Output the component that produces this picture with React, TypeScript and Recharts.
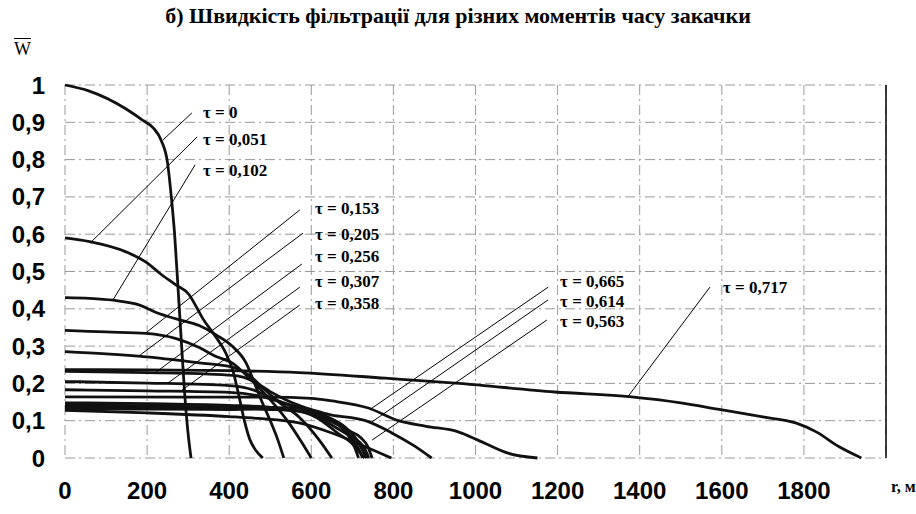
import React from 'react'
import { LineChart, Line, XAxis, YAxis, CartesianGrid, ReferenceLine, ReferenceDot } from 'recharts'

// [r, w] pairs
const tau0 = [[0, 1], [56, 0.985], [150, 0.935], [190, 0.905], [215, 0.885], [235, 0.85], [250, 0.79], [259, 0.7], [267, 0.6], [274, 0.48], [283, 0.32], [291, 0.18], [299, 0.075], [307, 0]]
const tau051 = [[0, 0.59], [60, 0.58], [150, 0.552], [200, 0.523], [230, 0.496], [270, 0.464], [303, 0.437], [320, 0.405], [335, 0.375], [364, 0.33], [390, 0.285], [410, 0.23], [425, 0.16], [437, 0.1], [450, 0.05], [465, 0.02], [482, 0]]
const tau102 = [[0, 0.43], [60, 0.428], [117, 0.423], [182, 0.41], [222, 0.39], [271, 0.373], [327, 0.355], [368, 0.33], [407, 0.3], [441, 0.255], [462, 0.2], [480, 0.15], [500, 0.1], [518, 0.05], [533, 0]]
const tau153 = [[0, 0.342], [100, 0.338], [198, 0.334], [271, 0.32], [327, 0.296], [368, 0.272], [407, 0.255], [448, 0.215], [497, 0.16], [545, 0.095], [575, 0.045], [600, 0]]
const tau205 = [[0, 0.285], [100, 0.279], [198, 0.271], [327, 0.255], [407, 0.244], [448, 0.222], [485, 0.185], [521, 0.15], [570, 0.11], [618, 0.05], [650, 0]]
const tau256 = [[0, 0.232], [200, 0.229], [350, 0.225], [420, 0.22], [460, 0.205], [500, 0.178], [540, 0.155], [580, 0.137], [620, 0.12], [660, 0.095], [690, 0.06], [705, 0.03], [715, 0]]
const tau307 = [[0, 0.205], [200, 0.201], [400, 0.194], [460, 0.182], [505, 0.16], [555, 0.138], [615, 0.12], [665, 0.09], [698, 0.055], [715, 0.025], [725, 0]]
const tau358 = [[0, 0.183], [200, 0.18], [400, 0.176], [470, 0.167], [520, 0.152], [580, 0.132], [640, 0.11], [680, 0.085], [710, 0.05], [725, 0.02], [735, 0]]
const tau409 = [[0, 0.148], [200, 0.146], [400, 0.141], [500, 0.136], [560, 0.128], [615, 0.112], [655, 0.085], [690, 0.062], [715, 0.045], [730, 0.025], [740, 0]]
const tau460 = [[0, 0.143], [200, 0.14], [400, 0.136], [500, 0.132], [575, 0.124], [625, 0.1], [665, 0.066], [698, 0.04], [718, 0.015], [730, 0]]
const tau512 = [[0, 0.138], [200, 0.135], [400, 0.132], [500, 0.13], [595, 0.124], [645, 0.1], [688, 0.075], [720, 0.055], [738, 0.03], [748, 0]]
const tau563 = [[0, 0.128], [200, 0.121], [400, 0.111], [470, 0.106], [570, 0.094], [650, 0.067], [732, 0.03], [795, 0]]
const tau614 = [[0, 0.133], [200, 0.131], [400, 0.13], [500, 0.134], [570, 0.135], [650, 0.115], [732, 0.1], [795, 0.068], [850, 0.033], [893, 0]]
const tau665 = [[0, 0.164], [300, 0.163], [500, 0.163], [600, 0.16], [650, 0.153], [739, 0.134], [812, 0.1], [880, 0.085], [958, 0.07], [1006, 0.048], [1079, 0.013], [1151, 0]]
const tau717 = [[0, 0.237], [200, 0.236], [400, 0.234], [570, 0.229], [780, 0.214], [960, 0.2], [1193, 0.177], [1380, 0.164], [1500, 0.148], [1590, 0.131], [1700, 0.11], [1780, 0.094], [1830, 0.07], [1886, 0.03], [1940, 0]]

const series = [tau0, tau051, tau102, tau153, tau205, tau256, tau307, tau358, tau409, tau460, tau512, tau563, tau614, tau665, tau717]

const xTicks = [0, 200, 400, 600, 800, 1000, 1200, 1400, 1600, 1800]
const yTicks = [0, 0.1, 0.2, 0.3, 0.4, 0.5, 0.6, 0.7, 0.8, 0.9, 1]
const yTickLabels = ['0', '0,1', '0,2', '0,3', '0,4', '0,5', '0,6', '0,7', '0,8', '0,9', '1']

// leader lines: curve point -> label end, label anchor (all in r, w)
const leaderText = ['τ = 0', 'τ = 0,051', 'τ = 0,102', 'τ = 0,153', 'τ = 0,205', 'τ = 0,256', 'τ = 0,307', 'τ = 0,358', 'τ = 0,665', 'τ = 0,614', 'τ = 0,563', 'τ = 0,717']
const leaderFrom = [[239, 0.853], [61, 0.576], [117, 0.424], [200, 0.338], [183, 0.276], [219, 0.228], [251, 0.201], [285, 0.182], [748, 0.134], [748, 0.097], [748, 0.048], [1371, 0.164]]
const leaderTo = [[309, 0.925], [322, 0.861], [317, 0.786], [572, 0.665], [580, 0.603], [577, 0.52], [572, 0.458], [572, 0.41], [1177, 0.458], [1177, 0.424], [1174, 0.37], [1571, 0.458]]
const labelAt = [[336, 0.925], [336, 0.853], [336, 0.772], [609, 0.67], [609, 0.598], [609, 0.539], [609, 0.472], [609, 0.414], [1206, 0.472], [1206, 0.42], [1206, 0.366], [1603, 0.458]]

const serif = '"Liberation Serif", "Times New Roman", serif'
const sans = '"Liberation Sans", Arial, sans-serif'

export default function App() {
  return (
    <div style={{ position: 'absolute', left: 0, top: 0, width: 916, height: 514, background: '#fff' }}>
      <div style={{ position: 'absolute', top: 3, left: 0, width: 916, textAlign: 'center', fontFamily: serif, fontWeight: 'bold', fontSize: 22 }}>
        б) Швидкість фільтрації для різних моментів часу закачки
      </div>
      <div style={{ position: 'absolute', top: 39, left: 14, fontFamily: serif, fontSize: 18, textDecoration: 'overline' }}>W</div>
      <div style={{ position: 'absolute', top: 478, left: 891, fontFamily: serif, fontWeight: 'bold', fontSize: 16 }}>r, м</div>
      <LineChart width={916} height={514} margin={{ top: 85, right: 30, bottom: 0, left: 5 }}>
        <CartesianGrid stroke="#999" strokeDasharray="10 4 2 4" />
        <XAxis
          dataKey="r"
          type="number"
          domain={[0, 2000]}
          ticks={xTicks}
          height={56}
          axisLine={false}
          tickLine={false}
          tickSize={0}
          tickMargin={24}
          tick={{ fill: '#000', fontSize: 24, fontWeight: 'bold', fontFamily: sans }}
          allowDuplicatedCategory={false}
        />
        <YAxis
          type="number"
          domain={[0, 1]}
          ticks={yTicks}
          width={60}
          axisLine={false}
          tickLine={false}
          tickSize={0}
          tickMargin={20}
          tickFormatter={(v: number) => yTickLabels[yTicks.indexOf(v)] ?? String(v)}
          tick={{ fill: '#000', fontSize: 24, fontWeight: 'bold', fontFamily: sans }}
        />
        <ReferenceLine x={2000} stroke="#000" strokeWidth={1.5} />
        {series.map((s, i) => (
          <Line
            key={i}
            data={s.map(([r, w]) => ({ r, w }))}
            dataKey="w"
            type="monotone"
            stroke="#111"
            strokeWidth={2.8}
            dot={false}
            isAnimationActive={false}
          />
        ))}
        {leaderText.map((t, i) => (
          <ReferenceLine
            key={'l' + i}
            segment={[{ x: leaderFrom[i][0], y: leaderFrom[i][1] }, { x: leaderTo[i][0], y: leaderTo[i][1] }]}
            stroke="#000"
            strokeWidth={1}
            ifOverflow="visible"
          />
        ))}
        {leaderText.map((t, i) => (
          <ReferenceDot
            key={'t' + i}
            x={labelAt[i][0]}
            y={labelAt[i][1]}
            ifOverflow="visible"
            shape={(p: any) => (
              <text x={p.cx} y={p.cy} dominantBaseline="central" fontFamily={serif} fontWeight="bold" fontSize={17} fill="#000">
                {t}
              </text>
            )}
          />
        ))}
      </LineChart>
    </div>
  )
}
